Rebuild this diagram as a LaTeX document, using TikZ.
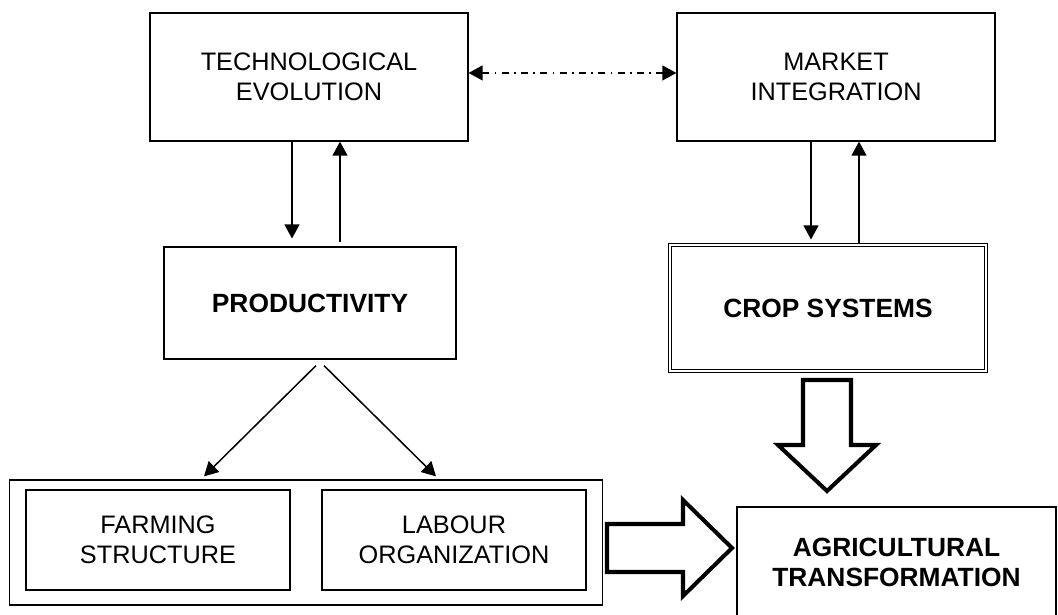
\documentclass[tikz,border=0pt]{standalone}
\usepackage{fontspec}
\setmainfont{Liberation Sans}
\usepackage{tikz}
\usetikzlibrary{calc,arrows.meta}

\begin{document}
\begin{tikzpicture}[x=0.02cm, y=-0.02cm,
        box/.style={draw, line width=0.7pt, align=center, inner sep=0pt,
            font=\fontsize{14.4}{17}\selectfont},
        boldbox/.style={box, font=\fontsize{15}{17}\selectfont\bfseries},
        arr/.style={line width=0.85pt, -{Triangle[length=8pt, width=8.5pt]}},
        fatarrow/.style={line width=2.3pt, line join=miter}]
        \useasboundingbox (0,0) rectangle (1058,615);
        \clip (0,0) rectangle (1058,615);

        \node[box, minimum width=6.36cm, minimum height=2.56cm] (tech) at (309,77) {TECHNOLOGICAL\\EVOLUTION};
        \node[box, minimum width=6.36cm, minimum height=2.56cm] (market) at (836,77) {MARKET\\INTEGRATION};
        \node[boldbox, minimum width=5.84cm, minimum height=2.24cm] (prod) at (310,303) {PRODUCTIVITY};
        \node[boldbox, double, double distance=1.2pt, minimum width=6.32cm, minimum height=2.52cm] (crop) at (828,308) {CROP SYSTEMS};

        \node[box, minimum width=11.85cm, minimum height=2.5cm] (outer) at (306,542.5) {};
        \node[box, minimum width=5.28cm, minimum height=2cm] (farm) at (158,540) {FARMING\\STRUCTURE};
        \node[box, minimum width=5.28cm, minimum height=2cm] (labour) at (454,540) {LABOUR\\ORGANIZATION};
        \node[boldbox, minimum width=6.38cm, minimum height=2.22cm] (agri) at (896.5,562.5) {AGRICULTURAL\\TRANSFORMATION};

        \draw[arr, {Triangle[length=8pt, width=8.5pt]}-{Triangle[length=8pt, width=8.5pt]}, dash pattern=on 4pt off 3pt on 1pt off 3pt]
            ([yshift=2.3pt]tech.east) -- ([yshift=2.3pt]market.west);

        \draw[arr, shorten >=4.5pt] (292,0 |- tech.south) -- (292,0 |- prod.north);
        \draw[arr, shorten <=2.3pt] (340,0 |- prod.north) -- (340,0 |- tech.south);
        \draw[arr, shorten >=2.8pt] (811,0 |- market.south) -- (811,0 |- crop.north);
        \draw[arr, shorten <=1pt] (859,0 |- crop.north) -- (859,0 |- market.south);

        \draw[arr] ($(prod.south)+(6,6)$) -- ($(farm.north)+(46,-13)$);
        \draw[arr] ($(prod.south)+(14,6)$) -- ($(labour.north)+(-18,-13)$);

        \draw[fatarrow] (607,524) -- (683,524) -- (683,500) -- (732,548) -- (683,596) -- (683,572) -- (607,572) -- cycle;
        \draw[fatarrow] (803,380) -- (851,380) -- (851,445) -- (876,445) -- (827,491) -- (778,445) -- (803,445) -- cycle;
\end{tikzpicture}
\end{document}
